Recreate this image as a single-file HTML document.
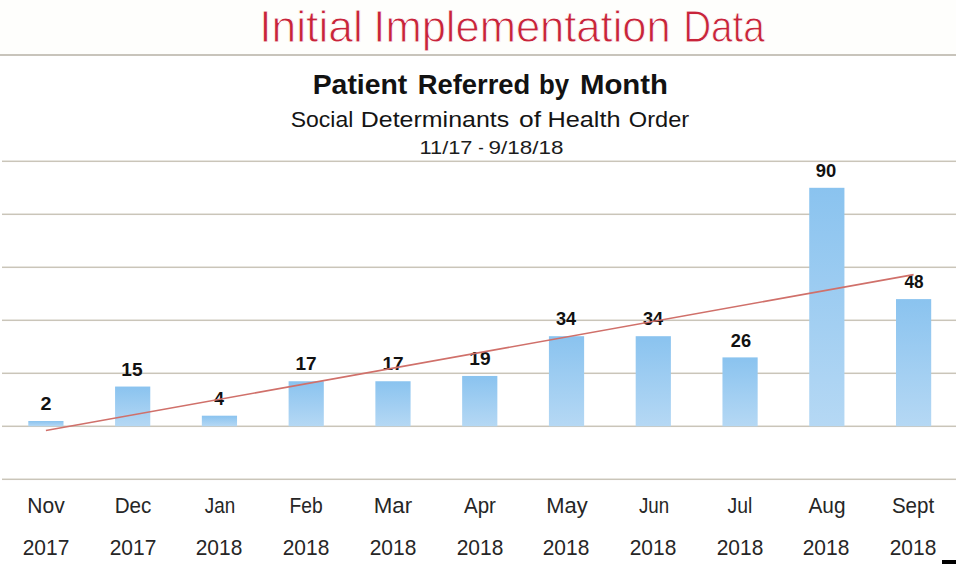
<!DOCTYPE html>
<html><head><meta charset="utf-8"><style>
html,body{margin:0;padding:0;}
body{width:956px;height:564px;position:relative;overflow:hidden;background:#fff;font-family:"Liberation Sans",sans-serif;}
.t{position:absolute;white-space:nowrap;transform-origin:50% 50%;}
</style></head><body>
<div id="hdr" style="position:absolute;left:0;top:0;width:956px;height:54px;background:#fefefc"></div>
<div id="hline" style="position:absolute;left:0;top:54.1px;width:956px;height:1.6px;background:#c8c4bb"></div>
<svg id="chart" style="position:absolute;left:0;top:0" width="956" height="564" viewBox="0 0 956 564"><defs><linearGradient id="g" x1="0" y1="0" x2="0" y2="1"><stop offset="0" stop-color="#8ac3ef"/><stop offset="1" stop-color="#b5d8f4"/></linearGradient></defs><rect x="2" y="478.55" width="954" height="1.5" fill="#cac5b9"/><rect x="2" y="425.55" width="954" height="1.5" fill="#cac5b9"/><rect x="2" y="372.55" width="954" height="1.5" fill="#cac5b9"/><rect x="2" y="319.55" width="954" height="1.5" fill="#cac5b9"/><rect x="2" y="266.55" width="954" height="1.5" fill="#cac5b9"/><rect x="2" y="213.55" width="954" height="1.5" fill="#cac5b9"/><rect x="2" y="160.55" width="954" height="1.5" fill="#cac5b9"/><rect x="28.30" y="421.00" width="35.2" height="5.30" fill="url(#g)"/><rect x="115.07" y="386.55" width="35.2" height="39.75" fill="url(#g)"/><rect x="201.84" y="415.70" width="35.2" height="10.60" fill="url(#g)"/><rect x="288.61" y="381.25" width="35.2" height="45.05" fill="url(#g)"/><rect x="375.38" y="381.25" width="35.2" height="45.05" fill="url(#g)"/><rect x="462.15" y="375.95" width="35.2" height="50.35" fill="url(#g)"/><rect x="548.92" y="336.20" width="35.2" height="90.10" fill="url(#g)"/><rect x="635.69" y="336.20" width="35.2" height="90.10" fill="url(#g)"/><rect x="722.46" y="357.40" width="35.2" height="68.90" fill="url(#g)"/><rect x="809.23" y="187.80" width="35.2" height="238.50" fill="url(#g)"/><rect x="896.00" y="299.10" width="35.2" height="127.20" fill="url(#g)"/></svg>
<div class="t" id="title_Initial" style="left:310.89px;top:4.62px;font-size:44.50px;line-height:44.50px;font-weight:400;color:#c8243a;transform:translateX(-50%) scaleX(0.9983);-webkit-text-stroke:0.9px #fefefc;">Initial</div>
<div class="t" id="title_Implementation" style="left:521.80px;top:4.62px;font-size:44.50px;line-height:44.50px;font-weight:400;color:#c8243a;transform:translateX(-50%) scaleX(0.9773);-webkit-text-stroke:0.9px #fefefc;">Implementation</div>
<div class="t" id="title_Data" style="left:724.28px;top:4.62px;font-size:44.50px;line-height:44.50px;font-weight:400;color:#c8243a;transform:translateX(-50%) scaleX(0.8689);-webkit-text-stroke:0.9px #fefefc;">Data</div>
<div class="t" id="patient_Patient" style="left:360.20px;top:71.82px;font-size:26.90px;line-height:26.90px;font-weight:700;color:#121212;transform:translateX(-50%) scaleX(1.0552);">Patient</div>
<div class="t" id="patient_Referred" style="left:474.07px;top:71.82px;font-size:26.90px;line-height:26.90px;font-weight:700;color:#121212;transform:translateX(-50%) scaleX(1.0173);">Referred</div>
<div class="t" id="patient_by" style="left:553.68px;top:71.82px;font-size:26.90px;line-height:26.90px;font-weight:700;color:#121212;transform:translateX(-50%) scaleX(0.9609);">by</div>
<div class="t" id="patient_Month" style="left:624.26px;top:71.82px;font-size:26.90px;line-height:26.90px;font-weight:700;color:#121212;transform:translateX(-50%) scaleX(1.0925);">Month</div>
<div class="t" id="social_Social" style="left:322.19px;top:107.91px;font-size:22.90px;line-height:22.90px;font-weight:400;color:#141414;transform:translateX(-50%) scaleX(1.0025);">Social</div>
<div class="t" id="social_Determinants" style="left:435.49px;top:107.91px;font-size:22.90px;line-height:22.90px;font-weight:400;color:#141414;transform:translateX(-50%) scaleX(1.0903);">Determinants</div>
<div class="t" id="social_of" style="left:529.58px;top:107.91px;font-size:22.90px;line-height:22.90px;font-weight:400;color:#141414;transform:translateX(-50%) scaleX(1.1555);">of</div>
<div class="t" id="social_Health" style="left:583.57px;top:107.91px;font-size:22.90px;line-height:22.90px;font-weight:400;color:#141414;transform:translateX(-50%) scaleX(1.1037);">Health</div>
<div class="t" id="social_Order" style="left:658.58px;top:107.91px;font-size:22.90px;line-height:22.90px;font-weight:400;color:#141414;transform:translateX(-50%) scaleX(1.0327);">Order</div>
<div class="t" id="date_0" style="left:445.79px;top:138.65px;font-size:18.60px;line-height:18.60px;font-weight:400;color:#1c1c1c;transform:translateX(-50%) scaleX(1.1729);">11/17</div>
<div class="t" id="date_1" style="left:480.62px;top:138.65px;font-size:18.60px;line-height:18.60px;font-weight:400;color:#1c1c1c;transform:translateX(-50%) scaleX(0.8834);">-</div>
<div class="t" id="date_2" style="left:525.55px;top:138.65px;font-size:18.60px;line-height:18.60px;font-weight:400;color:#1c1c1c;transform:translateX(-50%) scaleX(1.2065);">9/18/18</div>
<div class="t" id="month_0" style="left:46.20px;top:495.13px;font-size:21.70px;line-height:21.70px;font-weight:400;color:#262626;transform:translateX(-50%) scaleX(0.9698);">Nov</div>
<div class="t" id="month_1" style="left:132.86px;top:495.13px;font-size:21.70px;line-height:21.70px;font-weight:400;color:#262626;transform:translateX(-50%) scaleX(0.9524);">Dec</div>
<div class="t" id="month_2" style="left:219.57px;top:495.13px;font-size:21.70px;line-height:21.70px;font-weight:400;color:#262626;transform:translateX(-50%) scaleX(0.8681);">Jan</div>
<div class="t" id="month_3" style="left:306.17px;top:495.13px;font-size:21.70px;line-height:21.70px;font-weight:400;color:#262626;transform:translateX(-50%) scaleX(0.8873);">Feb</div>
<div class="t" id="month_4" style="left:392.53px;top:495.13px;font-size:21.70px;line-height:21.70px;font-weight:400;color:#262626;transform:translateX(-50%) scaleX(1.0288);">Mar</div>
<div class="t" id="month_5" style="left:480.07px;top:495.13px;font-size:21.70px;line-height:21.70px;font-weight:400;color:#262626;transform:translateX(-50%) scaleX(0.9450);">Apr</div>
<div class="t" id="month_6" style="left:566.60px;top:495.13px;font-size:21.70px;line-height:21.70px;font-weight:400;color:#262626;transform:translateX(-50%) scaleX(1.0122);">May</div>
<div class="t" id="month_7" style="left:653.95px;top:495.13px;font-size:21.70px;line-height:21.70px;font-weight:400;color:#262626;transform:translateX(-50%) scaleX(0.8638);">Jun</div>
<div class="t" id="month_8" style="left:739.95px;top:495.13px;font-size:21.70px;line-height:21.70px;font-weight:400;color:#262626;transform:translateX(-50%) scaleX(0.8928);">Jul</div>
<div class="t" id="month_9" style="left:827.45px;top:495.13px;font-size:21.70px;line-height:21.70px;font-weight:400;color:#262626;transform:translateX(-50%) scaleX(0.9612);">Aug</div>
<div class="t" id="month_10" style="left:913.03px;top:495.13px;font-size:21.70px;line-height:21.70px;font-weight:400;color:#262626;transform:translateX(-50%) scaleX(0.9464);">Sept</div>
<div class="t" id="year_0" style="left:45.74px;top:536.56px;font-size:22.60px;line-height:22.60px;font-weight:400;color:#262626;transform:translateX(-50%) scaleX(0.9274);">2017</div>
<div class="t" id="year_1" style="left:132.65px;top:536.56px;font-size:22.60px;line-height:22.60px;font-weight:400;color:#262626;transform:translateX(-50%) scaleX(0.9274);">2017</div>
<div class="t" id="year_2" style="left:219.39px;top:536.56px;font-size:22.60px;line-height:22.60px;font-weight:400;color:#262626;transform:translateX(-50%) scaleX(0.9263);">2018</div>
<div class="t" id="year_3" style="left:305.50px;top:536.56px;font-size:22.60px;line-height:22.60px;font-weight:400;color:#262626;transform:translateX(-50%) scaleX(0.9263);">2018</div>
<div class="t" id="year_4" style="left:393.04px;top:536.56px;font-size:22.60px;line-height:22.60px;font-weight:400;color:#262626;transform:translateX(-50%) scaleX(0.9273);">2018</div>
<div class="t" id="year_5" style="left:479.95px;top:536.56px;font-size:22.60px;line-height:22.60px;font-weight:400;color:#262626;transform:translateX(-50%) scaleX(0.9273);">2018</div>
<div class="t" id="year_6" style="left:566.06px;top:536.56px;font-size:22.60px;line-height:22.60px;font-weight:400;color:#262626;transform:translateX(-50%) scaleX(0.9263);">2018</div>
<div class="t" id="year_7" style="left:652.80px;top:536.56px;font-size:22.60px;line-height:22.60px;font-weight:400;color:#262626;transform:translateX(-50%) scaleX(0.9263);">2018</div>
<div class="t" id="year_8" style="left:739.71px;top:536.56px;font-size:22.60px;line-height:22.60px;font-weight:400;color:#262626;transform:translateX(-50%) scaleX(0.9263);">2018</div>
<div class="t" id="year_9" style="left:826.45px;top:536.56px;font-size:22.60px;line-height:22.60px;font-weight:400;color:#262626;transform:translateX(-50%) scaleX(0.9273);">2018</div>
<div class="t" id="year_10" style="left:913.36px;top:536.56px;font-size:22.60px;line-height:22.60px;font-weight:400;color:#262626;transform:translateX(-50%) scaleX(0.9263);">2018</div>
<div class="t" id="label_0" style="left:46.14px;top:396.13px;font-size:17.80px;line-height:17.80px;font-weight:700;color:#111;transform:translateX(-50%) scaleX(1.1108);">2</div>
<div class="t" id="label_1" style="left:132.25px;top:361.68px;font-size:17.80px;line-height:17.80px;font-weight:700;color:#111;transform:translateX(-50%) scaleX(1.0745);">15</div>
<div class="t" id="label_2" style="left:219.39px;top:390.83px;font-size:17.80px;line-height:17.80px;font-weight:700;color:#111;transform:translateX(-50%) scaleX(0.9849);">4</div>
<div class="t" id="label_3" style="left:305.90px;top:356.38px;font-size:17.80px;line-height:17.80px;font-weight:700;color:#111;transform:translateX(-50%) scaleX(1.0691);">17</div>
<div class="t" id="label_4" style="left:392.64px;top:356.38px;font-size:17.80px;line-height:17.80px;font-weight:700;color:#111;transform:translateX(-50%) scaleX(1.0691);">17</div>
<div class="t" id="label_5" style="left:479.55px;top:351.08px;font-size:17.80px;line-height:17.80px;font-weight:700;color:#111;transform:translateX(-50%) scaleX(1.0748);">19</div>
<div class="t" id="label_6" style="left:566.06px;top:311.33px;font-size:17.80px;line-height:17.80px;font-weight:700;color:#111;transform:translateX(-50%) scaleX(1.0183);">34</div>
<div class="t" id="label_7" style="left:652.80px;top:311.33px;font-size:17.80px;line-height:17.80px;font-weight:700;color:#111;transform:translateX(-50%) scaleX(1.0183);">34</div>
<div class="t" id="label_8" style="left:740.51px;top:332.53px;font-size:17.80px;line-height:17.80px;font-weight:700;color:#111;transform:translateX(-50%) scaleX(1.0243);">26</div>
<div class="t" id="label_9" style="left:826.45px;top:162.93px;font-size:17.80px;line-height:17.80px;font-weight:700;color:#111;transform:translateX(-50%) scaleX(1.0347);">90</div>
<div class="t" id="label_10" style="left:913.76px;top:274.23px;font-size:17.80px;line-height:17.80px;font-weight:700;color:#111;transform:translateX(-50%) scaleX(0.9648);">48</div>
<svg id="trend" style="position:absolute;left:0;top:0" width="956" height="564" viewBox="0 0 956 564"><line x1="45.90" y1="430.52" x2="913.60" y2="274.65" stroke="#d0706a" stroke-width="1.6"/></svg>
<div id="blk" style="position:absolute;left:942px;top:560px;width:14px;height:4px;background:#000"></div>
</body></html>
